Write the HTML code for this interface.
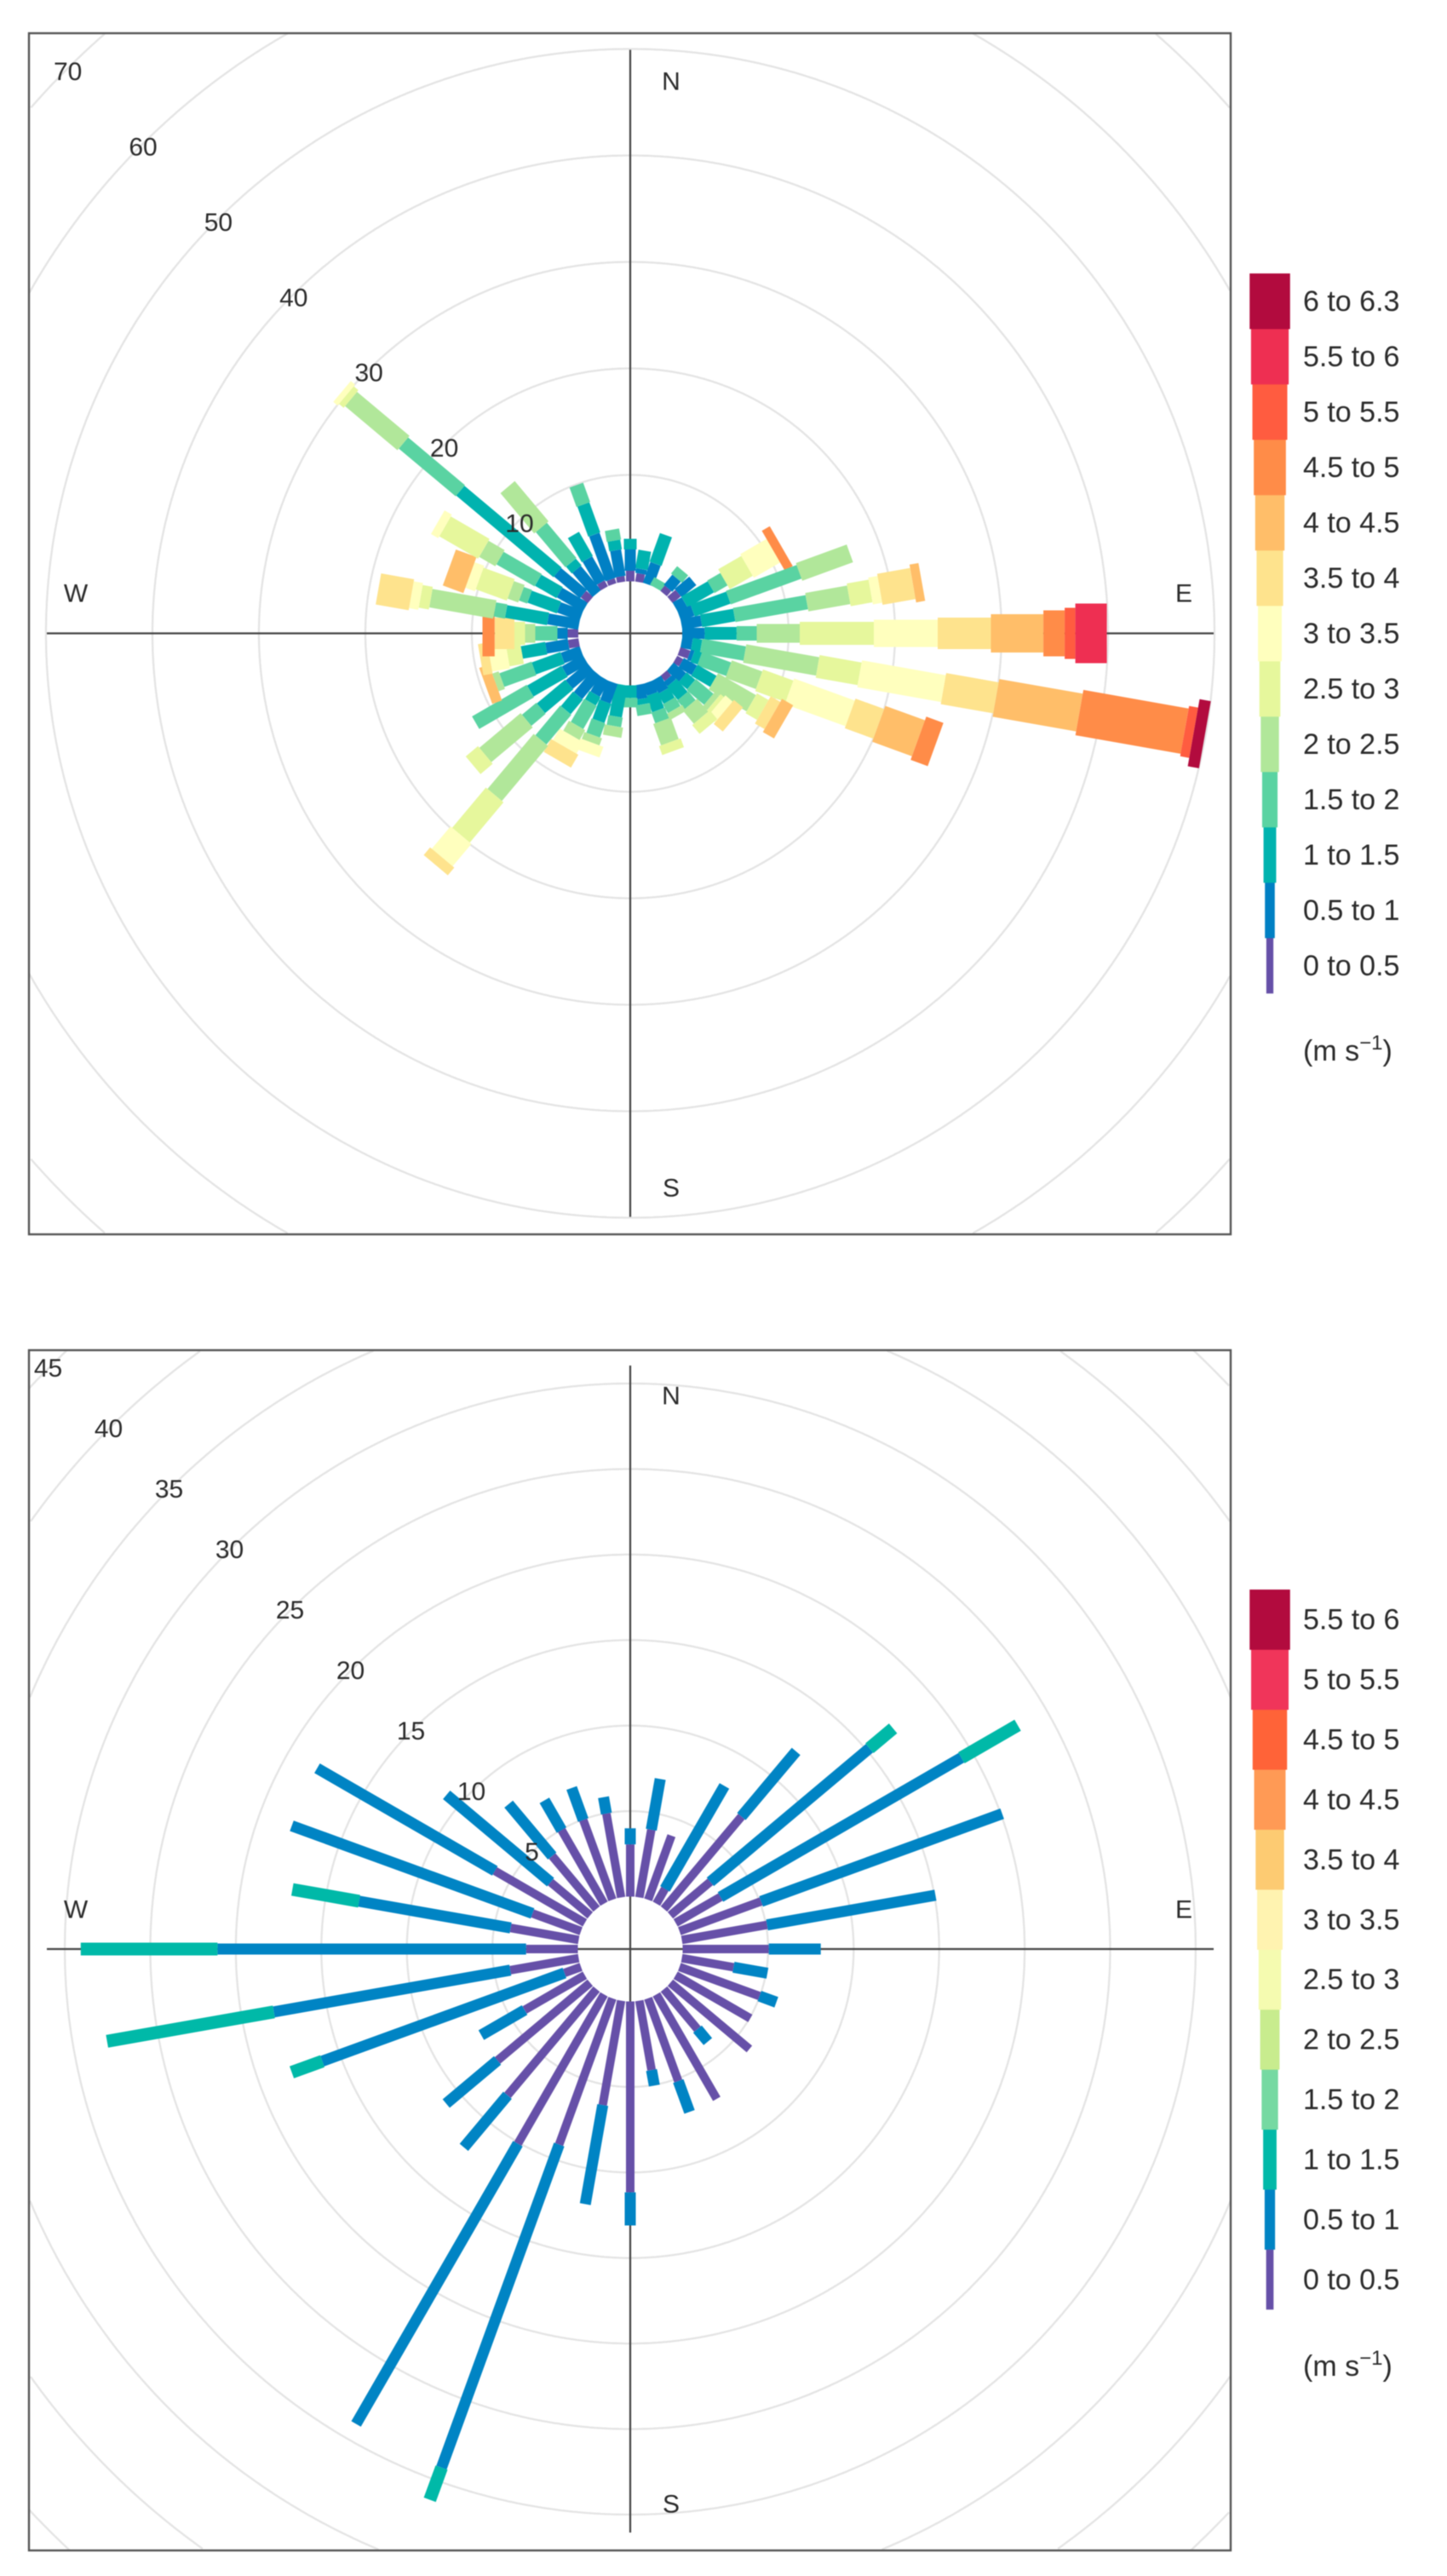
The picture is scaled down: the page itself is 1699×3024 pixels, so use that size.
<!DOCTYPE html>
<html lang="en">
<head>
<meta charset="utf-8">
<title>Wind roses</title>
<style>
html,body{margin:0;padding:0;background:#fff;width:1699px;height:3024px;overflow:hidden;}
#stage{width:1699px;height:3024px;overflow:hidden;position:relative;}
svg{display:block;overflow:hidden;filter:blur(0.6px);}
text{font-family:"Liberation Sans",sans-serif;fill:#2b2b2b;}
</style>
</head>
<body>
<div id="stage">
<svg id="figure" xmlns="http://www.w3.org/2000/svg" width="1699" height="3024" viewBox="0 0 1699 3024"></svg>
</div>
<script>
// ---------- data: directions (degrees) ----------
const directions = [10,20,30,40,50,60,70,80,90,100,110,120,130,140,150,160,170,180,190,200,210,220,230,240,250,260,270,280,290,300,310,320,330,340,350,360];

// ---------- top panel: frequency (%) per speed bin, one row per direction, lowest speed bin first ----------
const topFrequency = [
  [.8,.45,1.75],
  [0,2.07,2.86],
  [0,0,0,.82],
  [.64,1.25,0,.9],
  [1,1.79],
  [0,1,2.86,1.43,0,2.5,2.85,0,0,.86],
  [0,1.36,3.57,7.07,5.07],
  [0,1.89,3.15,6.92,4,2.08,.89,3.14,.86],
  [0,2.11,3,1.89,4.04,6.96,6,5,4.93,2,1,2.96],
  [0,1,.89,4.15,6.96,4,8,5,7.96,10.04,.86,0,1.07],
  [1,.36,.71,2.89,3.04,3.04,6.06,2.86,3.97,1.71],
  [.64,1.43,2.07,0,4.11,1.25,0,1.04,1.21],
  [0,1.54,1.06,2.15,.54,.42,.89,1.11],
  [.64,.54,1.61,1.07,1.6,1.08],
  [0,1.36,1.07,.96,.65],
  [0,1.18,1.61,1.07,2.14,.89],
  [0,1.36,.53,1],
  [0,0,1.18,.89],
  [0,0,3.04,.92,.97],
  [0,1.96,1.9,1.43,.71,0,1.07],
  [0,1.71,.89,2.51,1.07,0,1.25,1.39],
  [0,2.75,1.79,3.64,6.75,4.93,2.74,.94],
  [0,2.6,3.47,1.75,5.07,1.5],
  [0,2.25,3.71,5.93],
  [0,1.89,2.86,3.21,.64,0,0,0,.97],
  [1,2.14,2.32,0,0,1.36,1.68,.89],
  [1,.96,0,2.08,.96,1,0,1.86,0,1.14],
  [0,2.96,4,1.08,6.1,.97,.89,3.14],
  [0,2.25,2.93,.82,1.07,3.11,.96,0,2.06],
  [0,2.79,2.32,4.14,1.75,4.21,.79],
  [.86,3.18,11.92,6.97,6.43,.57,.53],
  [0,2.96,.83,4.32,4.93],
  [.64,2.54,2.61],
  [.5,4.5,3,1.93],
  [.54,2.5,.92,1.04],
  [1,2,1]
];
const topTicks = [10,20,30,40,50,60,70];
const topBins = ["0 to 0.5","0.5 to 1","1 to 1.5","1.5 to 2","2 to 2.5","2.5 to 3","3 to 3.5","3.5 to 4","4 to 4.5","4.5 to 5","5 to 5.5","5.5 to 6","6 to 6.3"];

// ---------- bottom panel ----------
const bottomFrequency = [
  [4.02,3.01],
  [3.99],
  [1,6.95],
  [7.05,4.97],
  [3.05,12.15,1.8],
  [3.03,16.27,3.8],
  [5.08,15],
  [5.06,10],
  [5.04,3.04],
  [3.07,2.01],
  [4.98,1.05],
  [5.04],
  [6.03],
  [3.05,.95],
  [7.05],
  [5.15,1.92],
  [4.12,.92],
  [11.16,1.94],
  [6.2,5.88],
  [9.1,20.1,2],
  [10.08,18.92],
  [8.1,3.97],
  [7.07,3.92],
  [4.07,2.93],
  [1.03,15.07,1.9],
  [4.06,14.04,9.9],
  [3.03,18.04,8],
  [4.04,9,3.96],
  [3.02,14.98],
  [6.08,12],
  [3.02,7.94],
  [4.04,3.96],
  [4.97,2],
  [4.97,1.99],
  [4.98,.97],
  [3.06,.94]
];
const bottomTicks = [5,10,15,20,25,30,35,40,45];
const bottomBins = ["0 to 0.5","0.5 to 1","1 to 1.5","1.5 to 2","2 to 2.5","2.5 to 3","3 to 3.5","3.5 to 4","4 to 4.5","4.5 to 5","5 to 5.5","5.5 to 6"];

const compassNames = ["N","E","S","W"];

// ---------- styling (not data) ----------
const topColors = ["#6650a8","#0080c4","#00b3af","#5ad3a2","#b1e79a","#e6f79c","#ffffbe","#fee38d","#ffbe69","#ff8c48","#ff5c40","#ee2f52","#b20b3e"];
const bottomColors = ["#6650a8","#0084c4","#00b9a8","#76d9a2","#c8ec8e","#f5fbb0","#fff3b0","#fdcb72","#ff9a55","#ff6338","#f0355a","#b20b3e"];
const binThickness = [10,13,15,17,22,27,32,37,45,54,60,70,80];

const NS = "http://www.w3.org/2000/svg";
const svg = document.getElementById("figure");

function radiusTop(v){ return 61 + 12.5 * v; }
function radiusBottom(v){ return 61.5 + 20.08 * v; }

// Ring outline restricted to the part inside the panel rectangle.
function ringPath(cfg, r){
  let d = "";
  let drawing = false;
  for(let k = 0; k <= 1440; k++){
    const a = k / 4 * Math.PI / 180;
    const x = cfg.cx + r * Math.cos(a);
    const y = cfg.cy + r * Math.sin(a);
    const inside = x >= cfg.left && x <= cfg.right && y >= cfg.top && y <= cfg.bottom;
    if(inside){
      d += (drawing ? "L" : "M") + x.toFixed(1) + " " + y.toFixed(1);
    }
    drawing = inside;
  }
  return d;
}

function drawPanel(cfg){
  const g = document.createElementNS(NS,"g");
  
  
  svg.appendChild(g);

  // rings
  cfg.ticks.forEach(function(t){
    const c = document.createElementNS(NS,"path");
    
    
    c.setAttribute("d", ringPath(cfg, cfg.radius(t)));
    c.setAttribute("fill", "none");
    c.setAttribute("stroke", "#e4e4e4");
    c.setAttribute("stroke-width", "2.3");
    g.appendChild(c);
  });

  // axes
  const axisLen = 685;
  const hAxis = document.createElementNS(NS,"line");
  
  
  hAxis.setAttribute("x1", cfg.cx - axisLen);
  hAxis.setAttribute("x2", cfg.cx + axisLen);
  hAxis.setAttribute("y1", cfg.cy);
  hAxis.setAttribute("y2", cfg.cy);
  hAxis.setAttribute("stroke", "#444");
  hAxis.setAttribute("stroke-width", "2.2");
  g.appendChild(hAxis);
  const vAxis = document.createElementNS(NS,"line");
  
  
  vAxis.setAttribute("x1", cfg.cx);
  vAxis.setAttribute("x2", cfg.cx);
  vAxis.setAttribute("y1", cfg.cy - axisLen);
  vAxis.setAttribute("y2", cfg.cy + axisLen);
  vAxis.setAttribute("stroke", "#444");
  vAxis.setAttribute("stroke-width", "2.2");
  g.appendChild(vAxis);

  // bars
  directions.forEach(function(deg, i){
    const a = deg * Math.PI / 180;
    const ux = Math.sin(a), uy = -Math.cos(a);
    const px = Math.cos(a), py = Math.sin(a);
    let cum = 0;
    cfg.freq[i].forEach(function(val, b){
      if(!val) return;
      const r0 = cfg.radius(cum);
      const r1 = cfg.radius(cum + val);
      cum += val;
      const w = binThickness[b] / 2;
      const pts = [
        [cfg.cx + ux*r0 + px*w, cfg.cy + uy*r0 + py*w],
        [cfg.cx + ux*r1 + px*w, cfg.cy + uy*r1 + py*w],
        [cfg.cx + ux*r1 - px*w, cfg.cy + uy*r1 - py*w],
        [cfg.cx + ux*r0 - px*w, cfg.cy + uy*r0 - py*w]
      ].map(function(p){ return p[0].toFixed(1) + "," + p[1].toFixed(1); }).join(" ");
      const seg = document.createElementNS(NS,"polygon");
      
      
      seg.setAttribute("points", pts);
      seg.setAttribute("fill", cfg.colors[b]);
      g.appendChild(seg);
    });
  });

  // centre hole
  const hole = document.createElementNS(NS,"circle");
  
  
  hole.setAttribute("cx", cfg.cx);
  hole.setAttribute("cy", cfg.cy);
  hole.setAttribute("r", cfg.radius(0) - 0.5);
  hole.setAttribute("fill", "#fff");
  g.appendChild(hole);
  const hLine = document.createElementNS(NS,"path");
  
  
  hLine.setAttribute("d", "M" + (cfg.cx-61) + " " + cfg.cy + "H" + (cfg.cx+61) + "M" + cfg.cx + " " + (cfg.cy-61) + "V" + (cfg.cy+61));
  hLine.setAttribute("stroke", "#444");
  hLine.setAttribute("stroke-width", "2.2");
  g.appendChild(hLine);

  // ring labels at NW diagonal
  cfg.ticks.forEach(function(t){
    const d = cfg.radius(t) * Math.SQRT1_2;
    const lab = document.createElementNS(NS,"text");
    
    
    lab.setAttribute("x", cfg.cx - d + cfg.labelDx);
    lab.setAttribute("y", cfg.cy - d + cfg.labelDy);
    lab.setAttribute("text-anchor", "middle");
    lab.setAttribute("dominant-baseline", "central");
    lab.setAttribute("font-size", "30");
    lab.textContent = t;
    g.appendChild(lab);
  });

  // compass labels
  compassNames.forEach(function(n, i){
    const lab = document.createElementNS(NS,"text");
    
    
    lab.setAttribute("x", cfg.compass[i][0]);
    lab.setAttribute("y", cfg.compass[i][1]);
    lab.setAttribute("text-anchor", "middle");
    lab.setAttribute("dominant-baseline", "central");
    lab.setAttribute("font-size", "30");
    lab.textContent = n;
    g.appendChild(lab);
  });

  // frame
  const frame = document.createElementNS(NS,"rect");
  
  
  frame.setAttribute("x", cfg.left);
  frame.setAttribute("y", cfg.top);
  frame.setAttribute("width", cfg.right - cfg.left);
  frame.setAttribute("height", cfg.bottom - cfg.top);
  frame.setAttribute("fill", "none");
  frame.setAttribute("stroke", "#555");
  frame.setAttribute("stroke-width", "2.4");
  g.appendChild(frame);

  // legend
  const legend = document.createElementNS(NS,"g");
  
  
  g.appendChild(legend);
  const n = cfg.bins.length;
  const h = (cfg.legendBottom - cfg.legendTop) / n;
  for(let k = 0; k < n; k++){
    const y = cfg.legendBottom - (k + 1) * h;
    const w = cfg.legendMin + k * (cfg.legendMax - cfg.legendMin) / (n - 1);
    const swatch = document.createElementNS(NS,"rect");
    
    
    swatch.setAttribute("x", 1491 - w / 2);
    swatch.setAttribute("y", y);
    swatch.setAttribute("width", w);
    swatch.setAttribute("height", h + 0.3);
    swatch.setAttribute("fill", cfg.colors[k]);
    legend.appendChild(swatch);
    const label = document.createElementNS(NS,"text");
    
    
    label.setAttribute("x", 1530);
    label.setAttribute("y", y + h / 2 + 0.5);
    label.setAttribute("dominant-baseline", "central");
    label.setAttribute("font-size", "34");
    label.textContent = cfg.bins[k];
    legend.appendChild(label);
  }
  const unit = document.createElementNS(NS,"text");
  
  
  unit.setAttribute("x", 1530);
  unit.setAttribute("y", cfg.unitY);
  unit.setAttribute("font-size", "34");
  unit.innerHTML = '(m s<tspan dy="-13" font-size="24">\u22121</tspan><tspan dy="13">)</tspan>';
  legend.appendChild(unit);
}

drawPanel({
  name: "wind-rose-top",
  cx: 740, cy: 743.5, left: 34, right: 1445, top: 39, bottom: 1449,
  radius: radiusTop, ticks: topTicks, freq: topFrequency, colors: topColors, bins: topBins,
  compass: [[788,96],[1390,697],[788,1395],[89,697]],
  labelDx: 1.5, labelDy: 3,
  legendTop: 321, legendBottom: 1166, legendMin: 8.3, legendMax: 47.5, unitY: 1245
});
drawPanel({
  name: "wind-rose-bottom",
  cx: 740, cy: 2288, left: 34, right: 1445, top: 1585, bottom: 2994,
  radius: radiusBottom, ticks: bottomTicks, freq: bottomFrequency, colors: bottomColors, bins: bottomBins,
  compass: [[788,1639],[1390,2242],[788,2940],[89,2242]],
  labelDx: -1, labelDy: 1,
  legendTop: 1866, legendBottom: 2711, legendMin: 8.7, legendMax: 47.5, unitY: 2789
});
</script>
</body>
</html>
